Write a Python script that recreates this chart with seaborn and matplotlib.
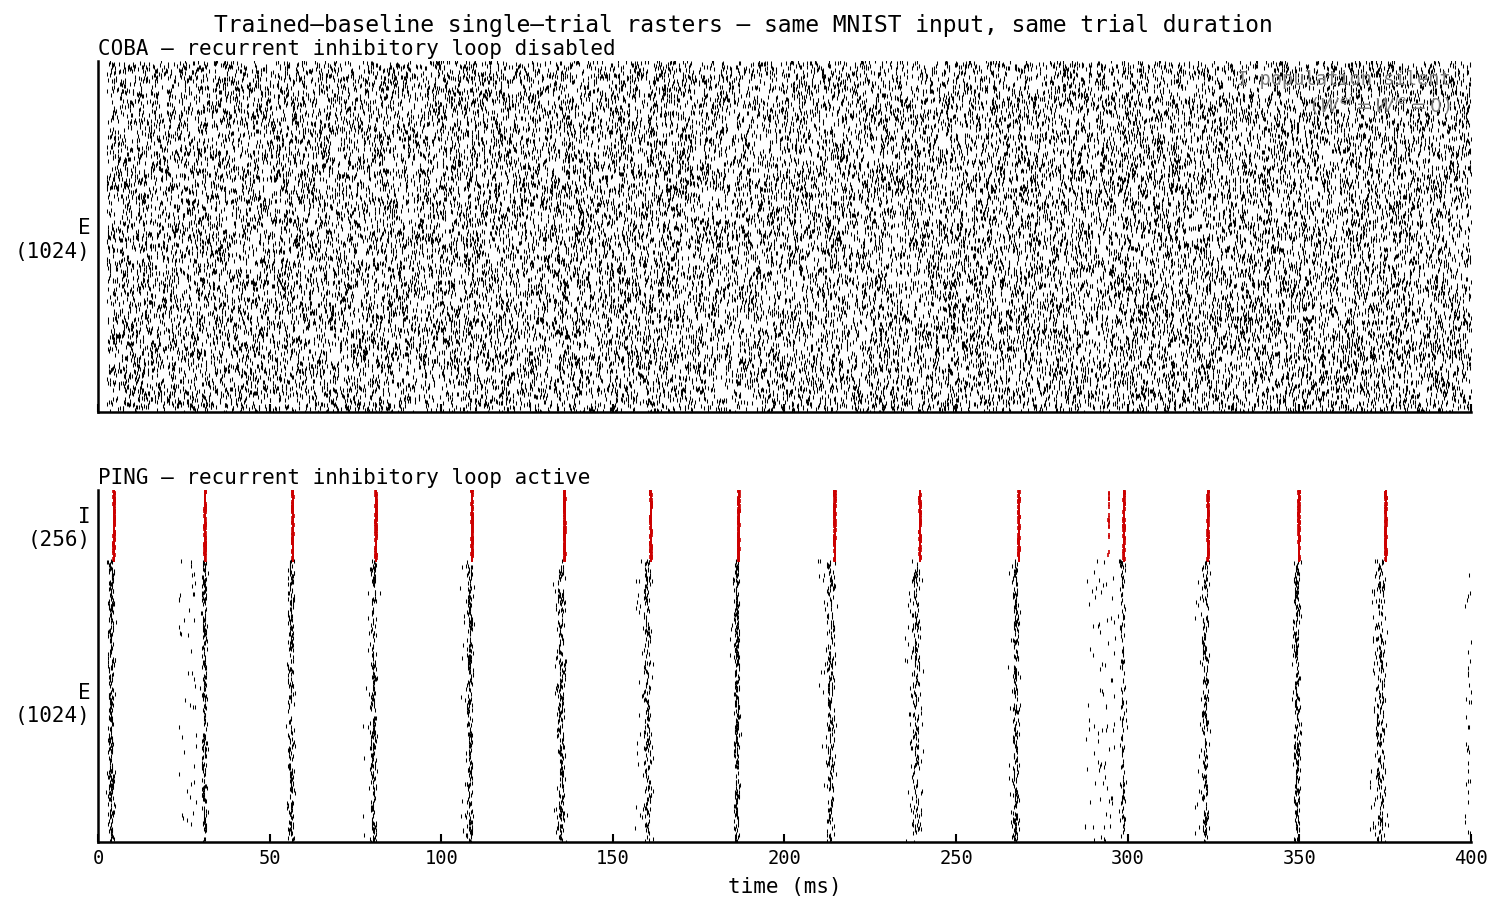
import numpy as np
import pandas as pd
import matplotlib
matplotlib.use("Agg")
import matplotlib.pyplot as plt
import seaborn as sns

# population sizes and trial length
n_e = 1024
n_i = 256
t_max = 400.0

# COBA: asynchronous E firing, I population silent
coba_onset_ms = 2.5
coba_rate_hz = 78.0

# PING: I volleys (ms)
ping_i_times = [4.7, 31.2, 56.8, 81.0, 109.0, 136.0, 161.1, 186.7, 214.7,
                239.5, 268.3, 298.9, 323.4, 349.9, 375.2]
ping_i_stray = [294.5]          # loose I spikes just before the 299 ms volley
ping_i_stray_n = [18]

# PING: E volleys (ms), their jitter and spike count
ping_e_times = [3.8, 30.9, 56.2, 80.2, 108.3, 134.9, 160.0, 186.1, 213.5,
                238.3, 267.3, 298.4, 322.5, 349.2, 373.6, 399.0]
ping_e_jitter = [0.5, 0.4, 0.5, 0.5, 0.4, 0.6, 0.6, 0.4, 0.7,
                 0.7, 0.5, 0.5, 0.5, 0.5, 0.8, 0.4]
ping_e_count = [300, 230, 240, 230, 230, 250, 200, 270, 220,
                200, 240, 130, 200, 250, 220, 35]

# PING: E spikes scattered ahead of a volley (start ms, end ms, count)
ping_e_early_lo = [23.5, 77.0, 105.5, 132.5, 156.5, 184.0, 209.5, 235.0, 265.0, 287.5, 319.5, 370.5]
ping_e_early_hi = [28.5, 80.0, 108.0, 134.5, 160.0, 186.0, 213.0, 238.0, 267.0, 296.5, 322.0, 373.0]
ping_e_early_n = [45, 12, 30, 12, 30, 8, 25, 25, 8, 80, 20, 35]

rng = np.random.default_rng(7)

# --- COBA spikes
n_coba = int(coba_rate_hz * n_e * (t_max - coba_onset_ms) / 1000.0)
coba = pd.DataFrame({
    "t": rng.uniform(coba_onset_ms, t_max, n_coba),
    "neuron": rng.integers(0, n_e, n_coba),
})

# --- PING spikes
e_t, e_n = [], []
for t0, sd, n in zip(ping_e_times, ping_e_jitter, ping_e_count):
    e_t.append(t0 + rng.normal(0, sd, n))
    e_n.append(rng.choice(n_e, n, replace=False))
for lo, hi, n in zip(ping_e_early_lo, ping_e_early_hi, ping_e_early_n):
    e_t.append(rng.uniform(lo, hi, n))
    e_n.append(rng.integers(0, n_e, n))
ping_e = pd.DataFrame({"t": np.concatenate(e_t), "neuron": np.concatenate(e_n)})
ping_e = ping_e[(ping_e["t"] >= 0) & (ping_e["t"] <= t_max)]

i_t, i_n = [], []
for t0 in ping_i_times:
    i_t.append(t0 + rng.normal(0, 0.1, n_i))
    i_n.append(np.arange(n_i) + n_e)
for t0, n in zip(ping_i_stray, ping_i_stray_n):
    i_t.append(t0 + rng.normal(0, 0.1, n))
    i_n.append(rng.integers(0, n_i, n) + n_e)
ping_i = pd.DataFrame({"t": np.concatenate(i_t), "neuron": np.concatenate(i_n)})

# --- plot
sns.set_theme(style="ticks")
plt.rcParams["font.family"] = ["DejaVu Sans Mono", "DejaVu Sans"]
plt.rcParams["mathtext.fontset"] = "dejavusans"
plt.rcParams["text.color"] = "black"
plt.rcParams["axes.labelcolor"] = "black"

fig = plt.figure(figsize=(1502 / 150, 912 / 150), dpi=150)
ax_top = fig.add_axes([0.0652, 0.5482, 0.9142, 0.3849])
ax_bot = fig.add_axes([0.0652, 0.0768, 0.9142, 0.3859])

spike_kw = dict(marker="|", s=2.6, legend=False)

sns.scatterplot(data=coba, x="t", y="neuron", color="black", linewidth=0.5, ax=ax_top, **spike_kw)
sns.scatterplot(data=ping_e, x="t", y="neuron", color="black", linewidth=0.5, ax=ax_bot, **spike_kw)
sns.scatterplot(data=ping_i, x="t", y="neuron", color="#cc0000", linewidth=0.8, ax=ax_bot, **spike_kw)

ax_top.set_ylim(-0.5, n_e - 0.5)
ax_bot.set_ylim(-0.5, n_e + n_i - 0.5)
ax_top.set_yticks([n_e / 2])
ax_top.set_yticklabels([f"E\n({n_e})"])
ax_bot.set_yticks([n_e + n_i / 2, n_e / 2])
ax_bot.set_yticklabels([f"I\n({n_i})", f"E\n({n_e})"])

for ax in (ax_top, ax_bot):
    ax.set_xlim(0, t_max)
    ax.set_xticks(np.arange(0, 401, 50))
    ax.set_xlabel("")
    ax.set_ylabel("")
    sns.despine(ax=ax)
    for side in ("left", "bottom"):
        ax.spines[side].set_linewidth(1.2)
        ax.spines[side].set_color("black")
    ax.tick_params(axis="x", direction="in", length=4, width=1.0, labelsize=9, colors="black")
    ax.tick_params(axis="y", length=0, labelsize=10, colors="black")
    for lab in ax.get_yticklabels():
        lab.set_horizontalalignment("right")
        lab.set_multialignment("right")

ax_top.tick_params(axis="x", labelbottom=False)
ax_bot.set_xlabel("time (ms)", fontsize=10)

ax_top.set_title("COBA — recurrent inhibitory loop disabled", loc="left", fontsize=10, pad=3)
ax_bot.set_title("PING — recurrent inhibitory loop active", loc="left", fontsize=10, pad=3)

ax_top.text(0.985, 0.975, "I population silent\n($W^{ei} = W^{ie} = 0$)",
            transform=ax_top.transAxes, ha="right", va="top", fontsize=9,
            color="#808080", multialignment="right")

fig.suptitle("Trained–baseline single–trial rasters — same MNIST input, same trial duration",
             fontsize=11, x=0.495, y=0.985)

fig.savefig("out.png", dpi=150)
